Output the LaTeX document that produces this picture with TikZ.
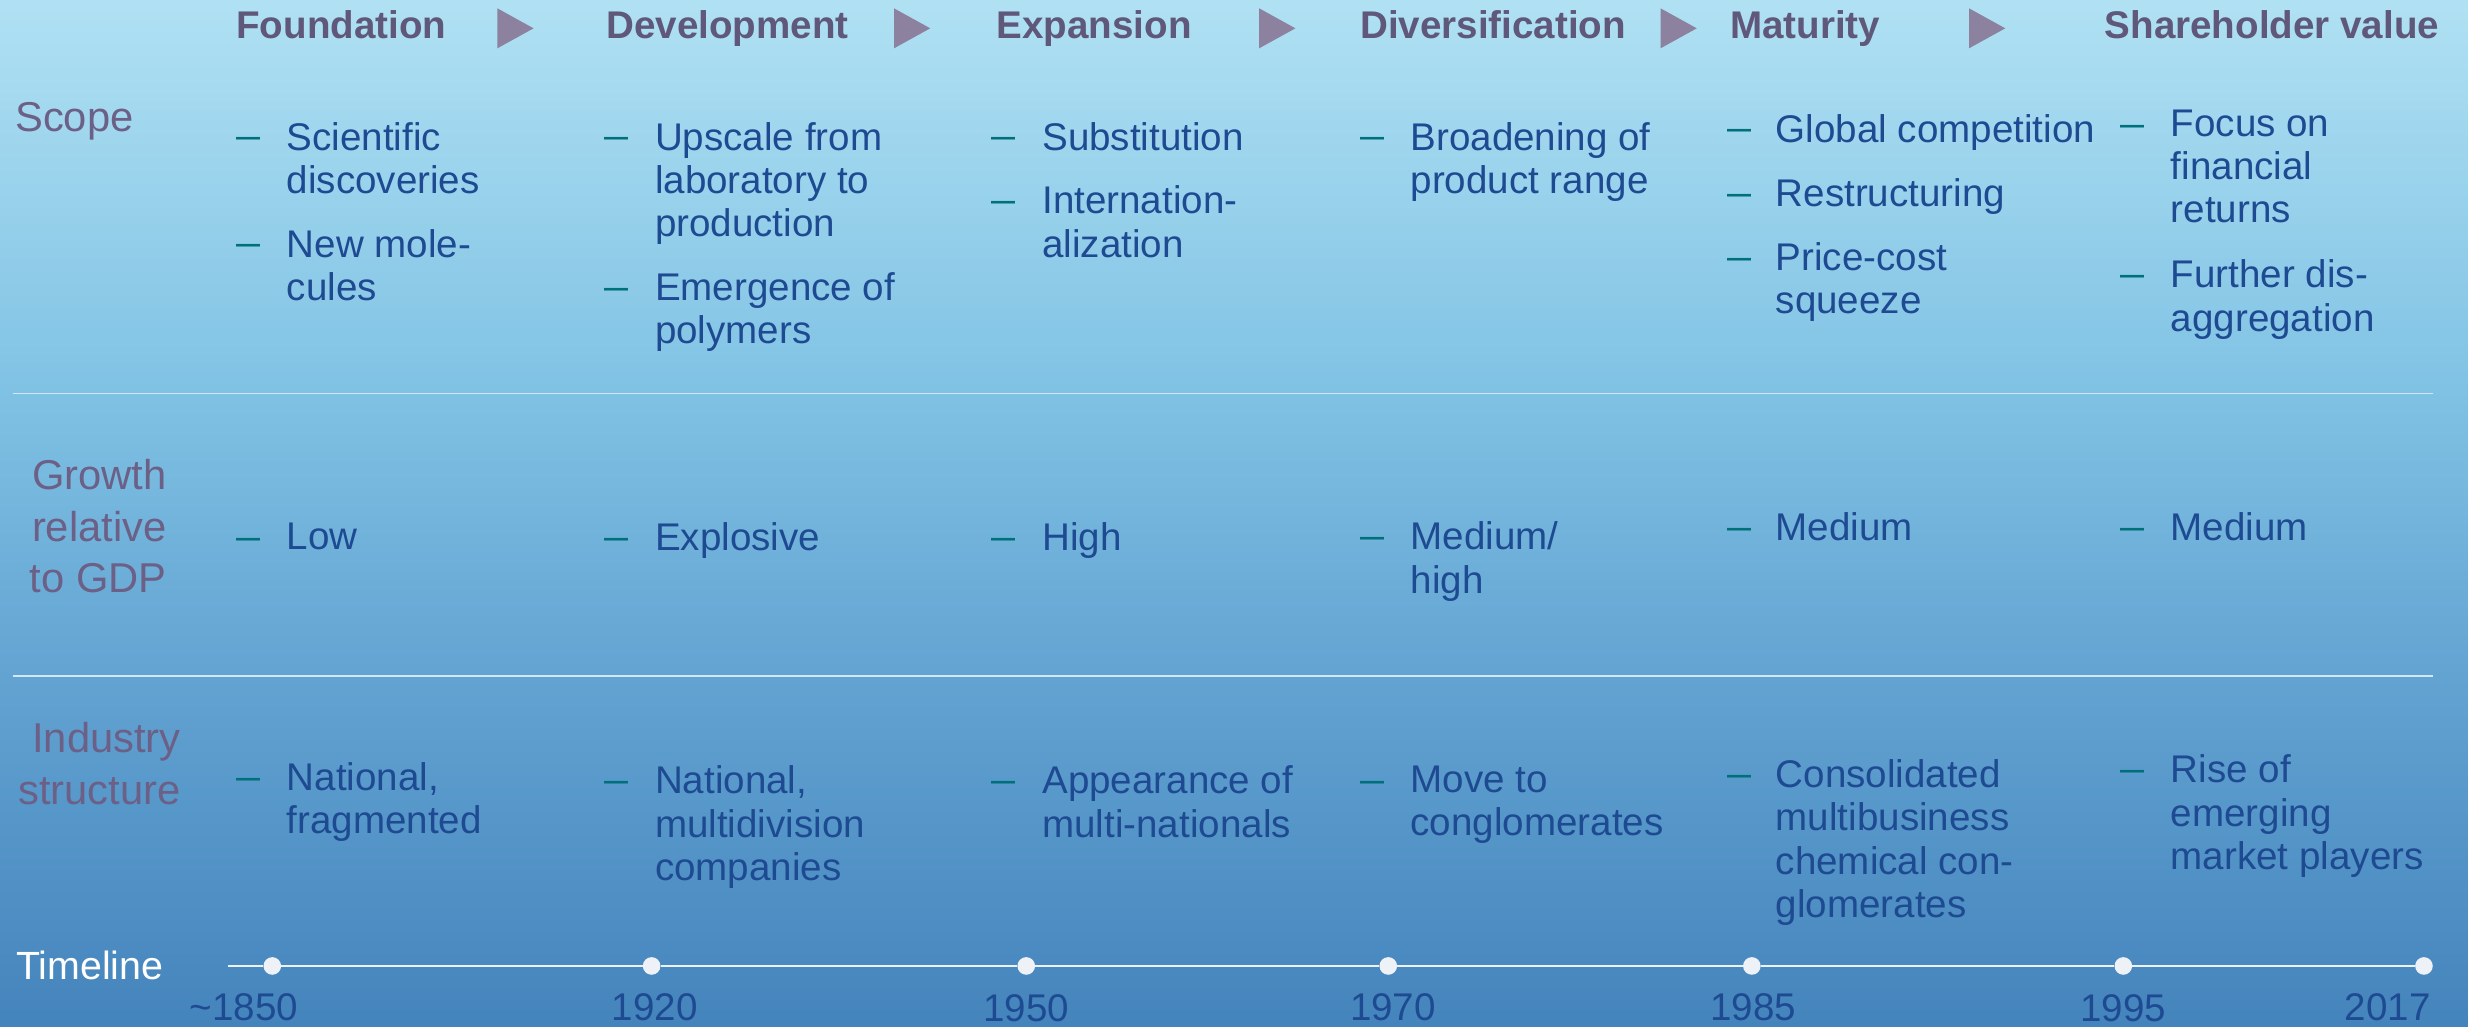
\documentclass[tikz,border=0pt]{standalone}
\usepackage{fontspec}
\setmainfont{Liberation Sans}
\definecolor{bgtop}{RGB}{176,225,243}
\definecolor{bgA}{RGB}{128,194,228}
\definecolor{bgB}{RGB}{98,163,210}
\definecolor{bgbot}{RGB}{68,132,188}
\definecolor{txt}{RGB}{30,74,146}
\definecolor{hdr}{RGB}{96,88,122}
\definecolor{tric}{RGB}{140,130,160}
\definecolor{lbl}{RGB}{108,96,134}
\definecolor{dashc}{RGB}{0,112,122}
\definecolor{sepc}{RGB}{210,230,246}
\definecolor{tlc}{RGB}{238,242,246}
% TikZ maps the path's box onto 25bp..75bp of the shading
\pgfdeclareverticalshading{bgshade}{100bp}{color(0bp)=(bgbot); color(25bp)=(bgbot); color(42bp)=(bgB); color(56bp)=(bgA); color(75bp)=(bgtop); color(100bp)=(bgtop)}
\tikzset{
  hd/.style={font=\bfseries\fontsize{24.5}{27}\selectfont, text=hdr, anchor=base west, inner sep=0pt},
  tri/.style={fill=tric, draw=none},
  lab/.style={font=\fontsize{26.5}{32.8}\selectfont, text=lbl, align=right, anchor=north east, inner sep=0pt},
  itm/.style={font=\fontsize{24.5}{27.5}\selectfont, text=txt, align=left, anchor=north west, inner sep=0pt},
  dsh/.style={font=\fontsize{24.5}{27.5}\selectfont, text=dashc, anchor=base west, inner sep=0pt, xscale=1.12},
  sep/.style={draw=sepc, line width=1pt},
  tl/.style={draw=tlc, line width=1.4pt},
  tdot/.style={circle, fill=tlc, minimum size=11.2pt, inner sep=0pt},
  yr/.style={font=\fontsize{24.5}{27}\selectfont, text=txt, anchor=base, inner sep=0pt},
}
\newcommand\myitem[5]{%
  \node[itm] (#1) at (#3,#4-17.6) {#5};
  \node[dsh] (#1-d) at (#2,#4-0.5) {–};}
\begin{document}
\begin{tikzpicture}[x=1pt,y=-1pt]
\useasboundingbox (0,0) rectangle (1568,652);
\shade[shading=bgshade] (0,0) rectangle (1568,652);
% headers
\node[hd] (h1) at (150,24.4) {Foundation};
\node[hd] (h2) at (385,24.4) {Development};
\node[hd] (h3) at (633,24.4) {Expansion};
\node[hd] (h4) at (864,24.4) {Diversification};
\node[hd] (h5) at (1099,24.4) {Maturity};
\node[hd] (h6) at (1337,24.4) {Shareholder value};
\foreach \x in {316,568,800,1055,1251}{
  \fill[tri] (\x,5.3) -- (\x+23,18) -- (\x,30.7) -- cycle;
}
% row labels
\node[lab] (lscope) at (85,84-19.3) {Scope};
\node[lab] (lgrowth) at (106,311-19.3) {Growth\\relative\\to GDP};
\node[lab] (lind) at (115,478-19.3) {Industry\\structure};
% separators
\coordinate (s1a) at (8,250); \coordinate (s1b) at (1546,250);
\coordinate (s2a) at (8,429.5); \coordinate (s2b) at (1546,429.5);
\draw[sep] (s1a) -- (s1b);
\draw[sep] (s2a) -- (s2b);
% row 1
\myitem{a1}{150}{182}{95}{Scientific\\discoveries}
\myitem{a2}{150}{182}{163}{New mole-\\cules}
\myitem{b1}{384}{416}{95}{Upscale from\\laboratory to\\production}
\myitem{b2}{384}{416}{190.6}{Emergence of\\polymers}
\myitem{c1}{630}{662}{95}{Substitution}
\myitem{c2}{630}{662}{135.6}{Internation-\\alization}
\myitem{e1}{864}{896}{95}{Broadening of\\product range}
\myitem{f1}{1097}{1128}{90}{Global competition}
\myitem{f2}{1097}{1128}{131}{Restructuring}
\myitem{f3}{1097}{1128}{171.6}{Price-cost\\squeeze}
\myitem{g1}{1347}{1379}{87}{Focus on\\financial\\returns}
\myitem{g2}{1347}{1379}{182.6}{Further dis-\\aggregation}
% row 2
\myitem{a3}{150}{182}{349.5}{Low}
\myitem{b3}{384}{416}{349.5}{Explosive}
\myitem{c3}{630}{662}{349.5}{High}
\myitem{e3}{864}{896}{349}{Medium/\\high}
\myitem{f4}{1097}{1128}{343}{Medium}
\myitem{g3}{1347}{1379}{343}{Medium}
% row 3
\myitem{a4}{150}{182}{502}{National,\\fragmented}
\myitem{b4}{384}{416}{504}{National,\\multidivision\\companies}
\myitem{c4}{630}{662}{504}{Appearance of\\multi-nationals}
\myitem{e4}{864}{896}{504}{Move to\\conglomerates}
\myitem{f5}{1097}{1128}{500}{Consolidated\\multibusiness\\chemical con-\\glomerates}
\myitem{g4}{1347}{1379}{497}{Rise of\\emerging\\market players}
% timeline
\node[font=\fontsize{25}{27}\selectfont, text=white, anchor=base west, inner sep=0pt] (tlab) at (10,622) {Timeline};
\coordinate (tls) at (145,613.7);
\node[tdot] (d1) at (173,613.7) {};
\node[tdot] (d2) at (414,613.7) {};
\node[tdot] (d3) at (652,613.7) {};
\node[tdot] (d4) at (882,613.7) {};
\node[tdot] (d5) at (1113,613.7) {};
\node[tdot] (d6) at (1349,613.7) {};
\node[tdot] (d7) at (1540,613.7) {};
\draw[tl] (tls) -- (d1) -- (d2) -- (d3) -- (d4) -- (d5) -- (d6) -- (d7);
\node[yr] (y1) at (155,648.5) {\char"007E\relax 1850};
\node[yr] (y2) at (416,648.5) {1920};
\node[yr] (y3) at (652,649) {1950};
\node[yr] (y4) at (885,648.5) {1970};
\node[yr] (y5) at (1114,648.5) {1985};
\node[yr] (y6) at (1349,649) {1995};
\node[yr] (y7) at (1517,648.5) {2017};
\end{tikzpicture}
\end{document}
